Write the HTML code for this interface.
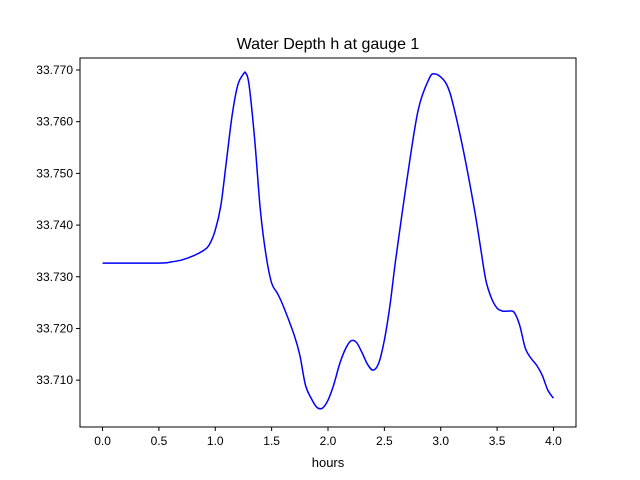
<!DOCTYPE html>
<html><head><meta charset="utf-8"><style>
body{margin:0;background:#fff;}
svg{display:block;font-family:"Liberation Sans","DejaVu Sans",sans-serif;}
</style></head><body>
<svg width="640" height="480" id="chart">
<rect width="640" height="480" fill="#fff"/>
<text x="328" y="49" text-anchor="middle" font-size="16">Water Depth h at gauge 1</text>
<g id="plot"></g>
<rect x="80" y="58" width="496" height="369" fill="none" stroke="#000" stroke-width="1"/>
<text x="328" y="467" text-anchor="middle" font-size="13">hours</text>
</svg>
<script>
const hours=[0,0.5,0.6,0.7,0.8,0.9,0.95,1.0,1.05,1.1,1.15,1.2,1.25,1.27,1.3,1.35,1.4,1.45,1.5,1.55,1.6,1.7,1.75,1.8,1.85,1.9,1.95,2.0,2.05,2.1,2.15,2.2,2.25,2.3,2.35,2.4,2.45,2.5,2.55,2.6,2.7,2.8,2.9,2.95,3.0,3.05,3.1,3.2,3.3,3.35,3.4,3.45,3.5,3.55,3.6,3.65,3.7,3.75,3.8,3.85,3.9,3.95,4.0];
const depth=[33.73265,33.73265,33.73284,33.73323,33.7340,33.73516,33.73632,33.73903,33.74387,33.75258,33.76129,33.7671,33.76923,33.76942,33.7671,33.75645,33.7429,33.7342,33.72878,33.72684,33.72452,33.71871,33.71484,33.70904,33.70652,33.70478,33.70458,33.70613,33.70904,33.71291,33.71581,33.71755,33.71736,33.71542,33.7131,33.71194,33.71329,33.71775,33.72452,33.73323,33.74871,33.76226,33.76845,33.76923,33.76865,33.76729,33.76419,33.75452,33.7429,33.73613,33.72936,33.72587,33.72394,33.72336,33.72336,33.72316,33.72065,33.7162,33.71426,33.71291,33.71097,33.70807,33.70652];
const xTicks=[0,0.5,1,1.5,2,2.5,3,3.5,4];
const xTickLabels=["0.0","0.5","1.0","1.5","2.0","2.5","3.0","3.5","4.0"];
const yTicks=[33.71,33.72,33.73,33.74,33.75,33.76,33.77];
const yTickLabels=["33.710","33.720","33.730","33.740","33.750","33.760","33.770"];
const L=80,R=576,T=58,B=427;
const xMin=-0.2,xMax=4.2,yMin=33.70094,yMax=33.77232;
const sx=v=>L+(v-xMin)/(xMax-xMin)*(R-L);
const sy=v=>B-(v-yMin)/(yMax-yMin)*(B-T);
const NS="http://www.w3.org/2000/svg";
const g=document.getElementById('plot');
function mk(t,a){const e=document.createElementNS(NS,t);for(const k in a)e.setAttribute(k,a[k]);g.appendChild(e);return e;}
xTicks.forEach((v,i)=>{
 const l=mk('line',{x1:sx(v),x2:sx(v),y1:B,y2:B+4,stroke:'#000'});
 
 
 const t=mk('text',{x:sx(v),y:B+18,'text-anchor':'middle','font-size':12});
 t.textContent=xTickLabels[i];
 
 
});
yTicks.forEach((v,i)=>{
 const l=mk('line',{x1:L-4,x2:L,y1:sy(v),y2:sy(v),stroke:'#000'});
 
 
 const t=mk('text',{x:L-7,y:sy(v)+4,'text-anchor':'end','font-size':12});
 t.textContent=yTickLabels[i];
 
 
});
// Catmull-Rom smoothing
const P=hours.map((h,i)=>[sx(h),sy(depth[i])]);
let d='M'+P[0][0]+','+P[0][1];
for(let i=0;i<P.length-1;i++){
 const p0=P[i-1]||P[i],p1=P[i],p2=P[i+1],p3=P[i+2]||P[i+1];
 const c1=[p1[0]+(p2[0]-p0[0])/6,p1[1]+(p2[1]-p0[1])/6];
 const c2=[p2[0]-(p3[0]-p1[0])/6,p2[1]-(p3[1]-p1[1])/6];
 d+=' C'+c1[0]+','+c1[1]+' '+c2[0]+','+c2[1]+' '+p2[0]+','+p2[1];
}
const line=mk('path',{d:d,fill:'none',stroke:'#0000ff','stroke-width':1.5});


</script>
</body></html>
